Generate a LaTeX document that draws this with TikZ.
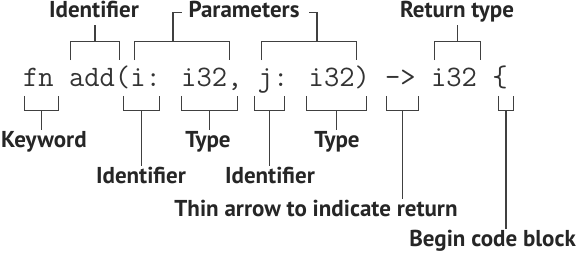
\documentclass[tikz,border=0pt]{standalone}
\usepackage{fontspec}
\setsansfont{PT Sans}
\usetikzlibrary{positioning}
\begin{document}
\begin{tikzpicture}[
    x=1pt, y=-1pt,
    lbl/.style={font=\sffamily\bfseries\fontsize{23}{23}\selectfont, inner xsep=0pt, inner ysep=2pt, text height=16pt, text depth=5pt, anchor=base, text=black!85},
    code/.style={font=\ttfamily\fontsize{29.7}{30}\selectfont, inner sep=0pt, anchor=base west, text=black!80},
    lo/.style={inner sep=0pt, minimum height=14pt},
    hi/.style={inner sep=0pt, minimum height=18pt},
    br/.style={draw=black!75, line width=1.2pt},
]
\useasboundingbox (0,0) rectangle (578,256);

\node[code] (src) at (23,87) {fn add(i: i32, j: i32) -> i32 \{};

% labels above
\node[lbl] (idTop) at (94,18) {Identifier};
\node[lbl] (par) at (244,18) {Parameters};
\node[lbl] (rt) at (457,18) {Return type};

% labels below
\node[lbl, anchor=base west] (kw) at (1,148) {Keyword};
\node[lbl] (id1) at (141,184) {Identifier};
\node[lbl] (ty1) at (208,148) {Type};
\node[lbl] (id2) at (270,184) {Identifier};
\node[lbl] (ty2) at (337,148) {Type};
\node[lbl] (ret) at (316,217) {Thin arrow to indicate return};
\node[lbl, anchor=base east] (blk) at (576,247) {Begin code block};

% spans over the code
\node[hi, minimum width=48pt] (sAdd) at (95,51) {};
\node[hi, minimum width=94pt] (sPl) at (182,51) {};
\node[hi, minimum width=94pt] (sPr) at (309,51) {};
\node[hi, minimum width=45pt] (sRt) at (457.5,51) {};

% spans under the code
\node[lo, minimum width=33pt] (sFn) at (41.5,103) {};
\node[lo, minimum width=35pt] (sI) at (141.5,103) {};
\node[lo, minimum width=55pt] (sTi) at (209.5,103) {};
\node[lo, minimum width=29pt] (sJ) at (269.5,103) {};
\node[lo, minimum width=59pt] (sTj) at (336.5,103) {};
\node[lo, minimum width=31pt] (sAr) at (402.5,103) {};
\node[lo, minimum width=14pt] (sBr) at (506,103) {};

\foreach \s in {sAdd, sPl, sPr, sRt}
  \draw[br] (\s.south west) -- (\s.north west) -- (\s.north east) -- (\s.south east);
\foreach \s in {sFn, sI, sTi, sJ, sTj, sAr, sBr}
  \draw[br] (\s.north west) -- (\s.south west) -- (\s.south east) -- (\s.north east);

\draw[br] (sAdd.north) -- (sAdd.north |- idTop.south);
\draw[br] (sRt.north) -- (sRt.north |- rt.south);
\draw[br] ([xshift=-9pt]sPl.north) |- (sPl.north |- par.west);
\draw[br] ([xshift=8pt]sPr.north) |- (sPr.north |- par.west);

\foreach \s/\l in {sFn/kw, sI/id1, sTi/ty1, sJ/id2, sTj/ty2, sAr/ret, sBr/blk}
  \draw[br] (\s.south) -- (\s.south |- \l.north);
\end{tikzpicture}
\end{document}
